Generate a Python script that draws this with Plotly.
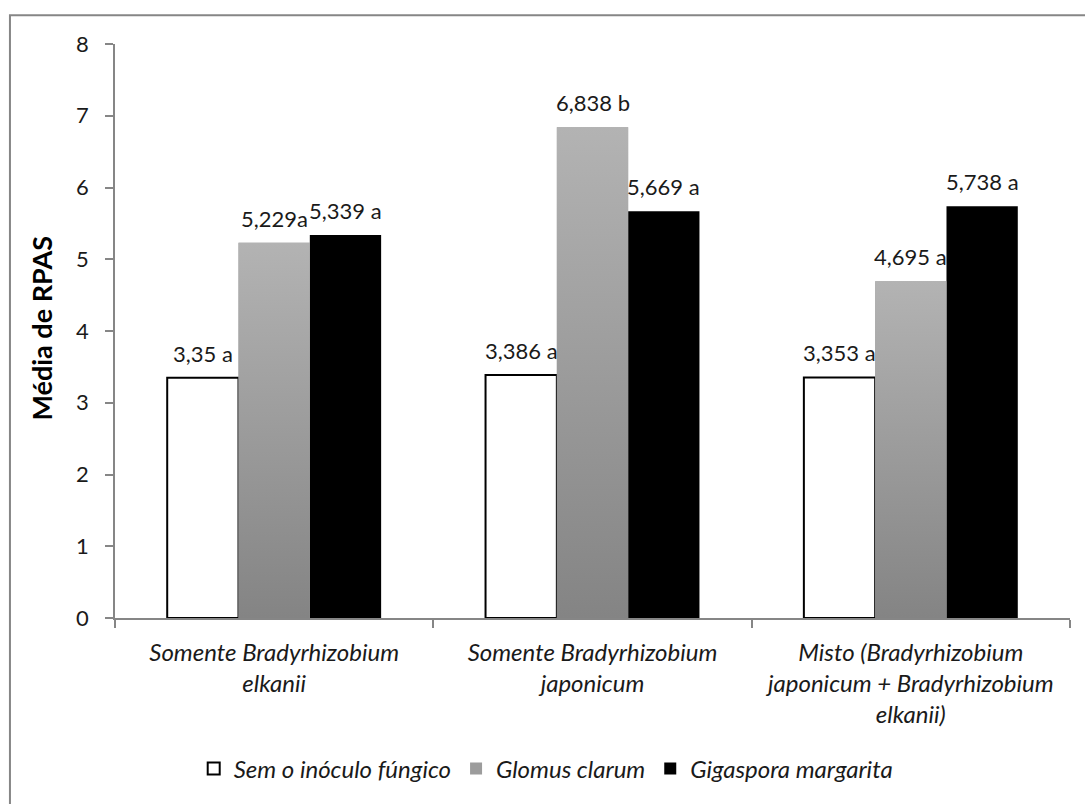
import plotly.graph_objects as go

# Categories (rhizobia inoculation) and series (mycorrhizal fungi)
categories = [
    "Somente Bradyrhizobium<br>elkanii",
    "Somente Bradyrhizobium<br>japonicum",
    "Misto (Bradyrhizobium<br>japonicum + Bradyrhizobium<br>elkanii)",
]
series_names = ["Sem o inóculo fúngico", "Glomus clarum", "Gigaspora margarita"]

sem_inoculo = [3.35, 3.386, 3.353]
glomus = [5.229, 6.838, 4.695]
gigaspora = [5.339, 5.669, 5.738]

sem_labels = ["3,35 a", "3,386 a", "3,353 a"]
glomus_labels = ["5,229a", "6,838 b", "4,695 a"]
gigaspora_labels = ["5,339 a", "5,669 a", "5,738 a"]

y_ticks = [0, 1, 2, 3, 4, 5, 6, 7, 8]

FONT = "Lato, 'Open Sans', sans-serif"
AXIS_GREY = "#868686"
TEXT = "#1a1a1a"
BAR_W = 0.224
pos = list(range(len(categories)))
offsets = [-1.5 * BAR_W, -0.5 * BAR_W, 0.5 * BAR_W]

fig = go.Figure()

fig.add_trace(go.Bar(
    x=pos, y=sem_inoculo, name=series_names[0], width=BAR_W, offset=offsets[0],
    marker=dict(color="white", line=dict(color="black", width=2)),
))
fig.add_trace(go.Bar(
    x=pos, y=glomus, name=series_names[1], width=BAR_W, offset=offsets[1],
    marker=dict(color="#9c9c9c", line=dict(width=0)),
))
fig.add_trace(go.Bar(
    x=pos, y=gigaspora, name=series_names[2], width=BAR_W, offset=offsets[2],
    marker=dict(color="black", line=dict(width=0)),
))

# Vertical grey gradient on the Glomus bars (light top, darker base)
for p, v in zip(pos, glomus):
    x0 = p + offsets[1]
    x1 = x0 + BAR_W
    fig.add_trace(go.Scatter(
        x=[x0, x0, x1, x1, x0], y=[0, v, v, 0, 0],
        mode="none", fill="toself", showlegend=False, hoverinfo="skip",
        fillgradient=dict(type="vertical",
                          colorscale=[[0, "#848484"], [1, "#b3b3b3"]],
                          start=0, stop=v),
    ))

# Value labels above each bar
for vals, labels, off in [(sem_inoculo, sem_labels, offsets[0]),
                          (glomus, glomus_labels, offsets[1]),
                          (gigaspora, gigaspora_labels, offsets[2])]:
    for p, v, t in zip(pos, vals, labels):
        fig.add_annotation(
            x=p + off + BAR_W / 2, y=v, text=t, showarrow=False,
            xanchor="center", yanchor="bottom", yshift=9,
            font=dict(family=FONT, size=22, color=TEXT),
        )

# Y-axis title
fig.add_annotation(
    text="<b>Média de RPAS</b>", xref="paper", yref="paper",
    x=-0.077, y=0.505, textangle=-90, showarrow=False,
    xanchor="center", yanchor="middle",
    font=dict(family=FONT, size=27, color="black"),
)

# Chart-area border
fig.add_shape(type="rect", xref="paper", yref="paper",
              x0=-0.11, y0=-0.334, x1=1.026, y1=1.0502,
              line=dict(color=AXIS_GREY, width=2), fillcolor="rgba(0,0,0,0)",
              layer="below")

fig.update_layout(
    width=1085, height=804,
    margin=dict(l=115, r=15, t=44, b=182),
    paper_bgcolor="white", plot_bgcolor="white",
    barmode="overlay",
    font=dict(family=FONT, size=22, color=TEXT),
    showlegend=True,
    legend=dict(
        orientation="h", x=0.451, xanchor="center", y=-0.263, yanchor="middle",
        font=dict(family=FONT, size=24, color=TEXT, style="italic"),
        bgcolor="rgba(0,0,0,0)",
    ),
    xaxis=dict(
        range=[-0.5, 2.5], tickvals=pos, ticktext=categories, ticks="",
        showline=True, linecolor=AXIS_GREY, linewidth=1.5,
        showgrid=False, zeroline=False, ticklabelstandoff=12,
        tickfont=dict(family=FONT, size=24, color=TEXT, style="italic"),
        minor=dict(tickvals=[-0.5, 0.5, 1.5, 2.5], ticks="outside",
                   ticklen=8, tickcolor=AXIS_GREY, tickwidth=1.5, showgrid=False),
    ),
    yaxis=dict(
        range=[0, 8], tickvals=y_ticks, ticks="outside", ticklen=8,
        tickcolor=AXIS_GREY, tickwidth=1.5, showline=True, linecolor=AXIS_GREY,
        linewidth=1.5, showgrid=False, zeroline=False, ticklabelstandoff=12,
        tickfont=dict(family=FONT, size=22, color=TEXT),
    ),
)

fig.write_html("out.html")
